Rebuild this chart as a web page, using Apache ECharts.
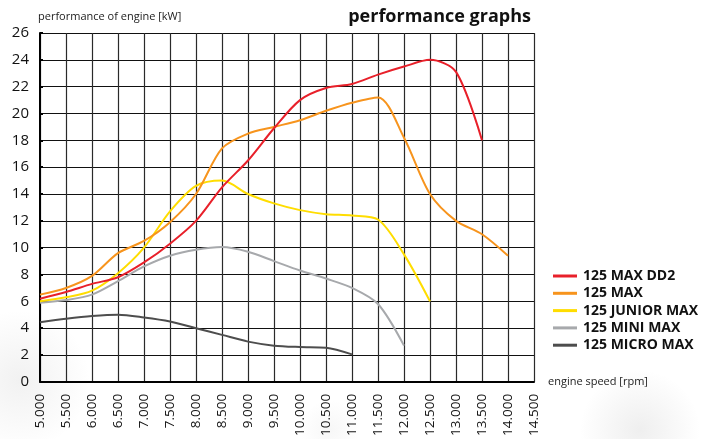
<!DOCTYPE html>
<html><head><meta charset="utf-8">
<script src="https://cdn.jsdelivr.net/npm/echarts@6/dist/echarts.min.js"></script>
<style>html,body{margin:0;padding:0;background:#fff}#c{width:701px;height:439px}</style>
</head><body><div id="c"></div>
<script>
const rpm = [5000,5500,6000,6500,7000,7500,8000,8500,9000,9500,10000,10500,11000,11500,12000,12500,13000,13500,14000];
const maxDD2  = [6.2,6.7,7.3,7.8,8.9,10.3,12.0,14.5,16.5,18.9,21.0,21.9,22.2,22.9,23.5,24.0,23.1,18.0,null];
const max125  = [6.5,7.0,7.9,9.6,10.5,11.9,14.0,17.4,18.5,19.0,19.5,20.2,20.8,21.2,18.2,14.0,12.0,11.0,9.4];
const junior  = [6.0,6.3,6.8,8.1,10.0,12.7,14.6,15.0,14.0,13.3,12.8,12.5,12.4,12.1,9.5,6.0,null,null,null];
const mini    = [5.9,6.1,6.5,7.5,8.6,9.4,9.85,10.05,9.7,9.0,8.3,7.7,7.0,5.8,2.7,null,null,null,null];
const micro   = [4.45,4.7,4.9,5.0,4.8,4.5,4.0,3.5,3.0,2.7,2.6,2.55,2.05,null,null,null,null,null,null];
const names = ['125 MAX DD2','125 MAX','125 JUNIOR MAX','125 MINI MAX','125 MICRO MAX'];
const colors = ['#e8202a','#f7941d','#ffdd00','#a7a9ac','#4d4d4d'];
const vals = [maxDD2, max125, junior, mini, micro];

const chart = echarts.init(document.getElementById('c'));
const font = 'Open Sans';
function smoke(cx, cy, rx, ry, a){
  return {type:'ellipse', z:-10, silent:true, shape:{cx:cx,cy:cy,rx:rx,ry:ry},
    style:{fill:{type:'radial',x:0.5,y:0.5,r:0.5,colorStops:[
      {offset:0,color:'rgba(120,120,120,'+a+')'},{offset:1,color:'rgba(120,120,120,0)'}]}}};
}
chart.setOption({
  animation:false,
  backgroundColor:'#fff',
  textStyle:{fontFamily:font},
  title:{text:'performance graphs', right:165, top:3,
    textStyle:{fontFamily:font,fontWeight:'bold',fontSize:18,color:'#111'}},
  graphic:[
    smoke(20, 380, 120, 70, 0.10),
    smoke(640, 430, 150, 60, 0.12),
    smoke(330, 430, 200, 30, 0.06)
  ],
  grid:{left:40,right:167,top:33,bottom:52,containLabel:false},
  legend:{orient:'vertical', left:548, top:264, itemWidth:24, itemHeight:3, itemGap:3.3,
    icon:'rect', data:names,
    textStyle:{fontFamily:font,fontWeight:'bold',fontSize:14,color:'#111',lineHeight:14,padding:[0,0,0,1]}},
  xAxis:{type:'value', min:5000, max:14500, interval:500,
    name:'engine speed [rpm]', nameLocation:'end', nameGap:14,
    nameTextStyle:{fontFamily:font,fontSize:11,color:'#222',verticalAlign:'middle',padding:[0,0,-8,0]},
    axisLine:{show:true,onZero:false,lineStyle:{color:'#000',width:2}},
    axisTick:{show:false},
    axisLabel:{rotate:90,fontSize:13.5,color:'#111',margin:12,
      formatter:v=>{const s=String(v);return s.slice(0,s.length-3)+'.'+s.slice(-3);}},
    splitLine:{show:true,lineStyle:{color:'#2a2a2a',width:1.2}}},
  yAxis:{type:'value', min:0, max:26, interval:2,
    name:'performance of engine [kW]', nameLocation:'end', nameGap:11,
    nameTextStyle:{fontFamily:font,fontSize:11,color:'#222',align:'left',padding:[0,0,0,-2]},
    axisLine:{show:true,lineStyle:{color:'#000',width:2}},
    axisTick:{show:true,length:3,inside:true,lineStyle:{color:'#000',width:2}},
    axisLabel:{fontSize:15,color:'#111',margin:11},
    splitLine:{show:true,lineStyle:{color:'#111',width:1.2}}},
  series: names.map((n,i)=>({
    name:n, type:'line', smooth:0.3, showSymbol:false, symbol:'none',
    connectNulls:false,
    data: rpm.map((x,j)=>vals[i][j]==null?null:[x,vals[i][j]]).filter(d=>d!==null),
    lineStyle:{color:colors[i],width:2}, itemStyle:{color:colors[i]},
    z: 10-i
  }))
});
</script></body></html>
